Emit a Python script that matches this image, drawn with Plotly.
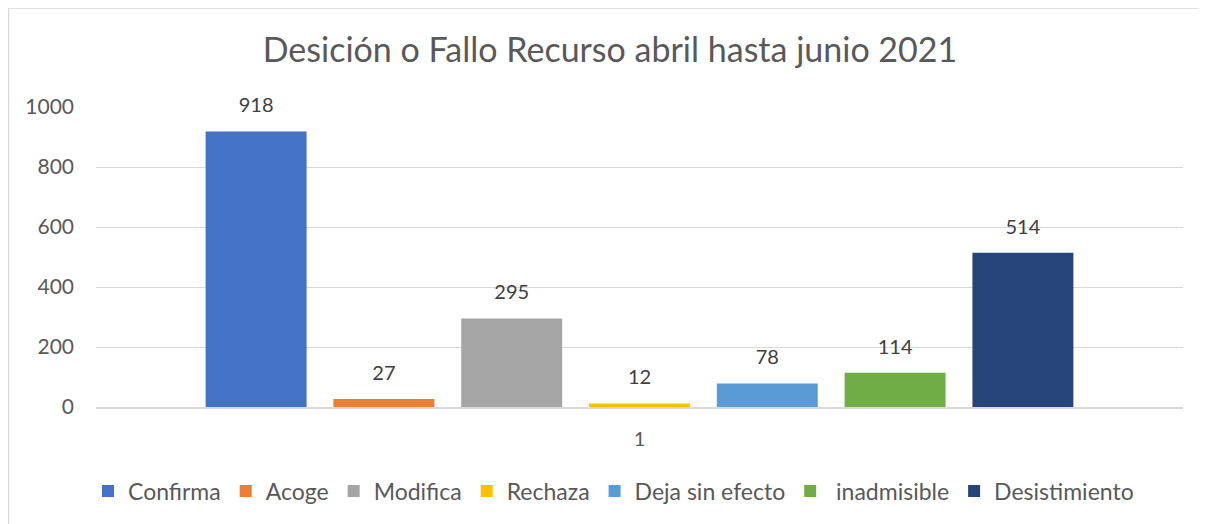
import plotly.graph_objects as go

categories = ["1"]
series_names = ["Confirma", "Acoge", "Modifica", "Rechaza", "Deja sin efecto", " inadmisible", "Desistimiento"]
series_values = [918, 27, 295, 12, 78, 114, 514]
series_colors = ["#4472C4", "#ED7D31", "#A5A5A5", "#FFC000", "#5B9BD5", "#70AD47", "#264478"]
y_ticks = [0, 200, 400, 600, 800, 1000]

FONT = "Lato, Open Sans, sans-serif"
# page has an 8px body margin, so the figure is drawn 8px in from the top-left
W, H = 1198, 516
ML, MR, MT, MB = 88, 23, 99, 117

fig = go.Figure()
for name, val, col in zip(series_names, series_values, series_colors):
    fig.add_trace(go.Bar(
        x=categories, y=[val], name=name, marker_color=col, marker_line_width=0,
        offsetgroup=name, showlegend=True,
    ))
for name, val in zip(series_names, series_values):
    fig.add_trace(go.Scatter(
        x=categories, y=[val], mode="markers+text", text=[str(val)], textposition="top center",
        marker=dict(size=21, opacity=0),
        textfont=dict(size=20, color="#404040", family=FONT),
        offsetgroup=name, showlegend=False, cliponaxis=False, hoverinfo="skip",
    ))

pw = W - ML - MR
ph = H - MT - MB
fig.update_layout(
    width=W, height=H,
    margin=dict(l=ML, r=MR, t=MT, b=MB, autoexpand=False),
    paper_bgcolor="white", plot_bgcolor="white",
    barmode="group", bargap=0.177, bargroupgap=0.21,
    scattermode="group", scattergap=0.177,
    font=dict(family=FONT, color="#595959", size=20),
    title=dict(text="Desición o Fallo Recurso abril hasta junio 2021",
               x=602 / W, xanchor="center", xref="container", y=1 - 42 / H, yanchor="middle",
               font=dict(size=34, color="#595959", family=FONT)),
    xaxis=dict(type="category", showgrid=False, showline=True, linecolor="#D9D9D9", linewidth=1.5,
               ticks="", ticklabelstandoff=13, tickfont=dict(size=20, color="#595959")),
    yaxis=dict(range=[0, 1000], tickvals=y_ticks, showgrid=True, gridcolor="#D9D9D9", gridwidth=1.3,
               zeroline=False, showline=False, ticks="", ticklabelstandoff=21,
               tickfont=dict(size=21, color="#595959")),
    legend=dict(orientation="h", x=(605.5 - ML) / pw, xanchor="center",
                y=-(491 - 407) / ph, yanchor="middle",
                font=dict(size=23, color="#595959"), traceorder="normal"),
    shapes=[dict(type="rect", xref="paper", yref="paper",
                 x0=(0.5 - ML) / pw, x1=(1400 - ML) / pw,
                 y0=(H - MB - 530) / ph, y1=(H - MB - 0) / ph,
                 line=dict(color="#D9D9D9", width=1.5), fillcolor="rgba(0,0,0,0)", layer="below")],
)
fig.write_html("out.html")
